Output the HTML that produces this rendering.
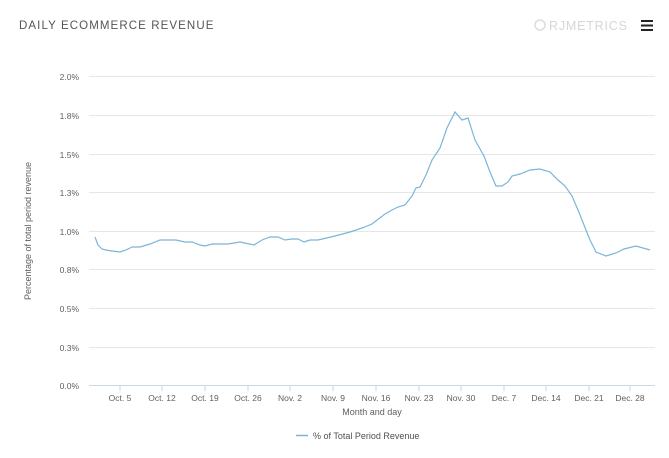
<!DOCTYPE html>
<html><head><meta charset="utf-8"><style>
body{margin:0;background:#fff;width:669px;height:453px;overflow:hidden;font-family:"Liberation Sans",sans-serif}
</style></head><body>
<svg width="669" height="453" xmlns="http://www.w3.org/2000/svg" font-family="Liberation Sans, sans-serif">
<text x="19" y="29" font-size="11.5" fill="#555" letter-spacing="1.1">DAILY ECOMMERCE REVENUE</text>
<circle cx="540" cy="25" r="5" fill="none" stroke="#ddd" stroke-width="1.5"/>
<text x="549" y="30" font-size="12.5" fill="#d6d6d6" letter-spacing="0.8">RJMETRICS</text>
<g fill="#222"><rect x="641" y="20" width="12" height="2"/><rect x="641" y="24.5" width="12" height="2"/><rect x="641" y="29" width="12" height="2"/></g>
<g stroke="#e6e6e6" stroke-width="1">
<line x1="89" x2="655" y1="76.5" y2="76.5"/><line x1="89" x2="655" y1="115.5" y2="115.5"/><line x1="89" x2="655" y1="154.5" y2="154.5"/><line x1="89" x2="655" y1="192.5" y2="192.5"/><line x1="89" x2="655" y1="231.5" y2="231.5"/><line x1="89" x2="655" y1="269.5" y2="269.5"/><line x1="89" x2="655" y1="308.5" y2="308.5"/><line x1="89" x2="655" y1="347.5" y2="347.5"/>
</g>
<line x1="89" x2="655" y1="385.5" y2="385.5" stroke="#c8d7e1"/>
<g stroke="#c8d7e1"><line x1="120" x2="120" y1="385" y2="391"/><line x1="162" x2="162" y1="385" y2="391"/><line x1="205" x2="205" y1="385" y2="391"/><line x1="248" x2="248" y1="385" y2="391"/><line x1="290" x2="290" y1="385" y2="391"/><line x1="333" x2="333" y1="385" y2="391"/><line x1="376" x2="376" y1="385" y2="391"/><line x1="419" x2="419" y1="385" y2="391"/><line x1="461" x2="461" y1="385" y2="391"/><line x1="504" x2="504" y1="385" y2="391"/><line x1="546" x2="546" y1="385" y2="391"/><line x1="589" x2="589" y1="385" y2="391"/><line x1="630" x2="630" y1="385" y2="391"/></g>
<g font-size="8.5" fill="#606060" text-anchor="end">
<text x="79" y="80">2.0%</text><text x="79" y="119">1.8%</text><text x="79" y="158">1.5%</text><text x="79" y="196">1.3%</text><text x="79" y="235">1.0%</text><text x="79" y="273">0.8%</text><text x="79" y="312">0.5%</text><text x="79" y="351">0.3%</text><text x="79" y="389">0.0%</text>
</g>
<g font-size="8.5" fill="#606060" text-anchor="middle">
<text x="120" y="401">Oct. 5</text><text x="162" y="401">Oct. 12</text><text x="205" y="401">Oct. 19</text><text x="248" y="401">Oct. 26</text><text x="290" y="401">Nov. 2</text><text x="333" y="401">Nov. 9</text><text x="376" y="401">Nov. 16</text><text x="419" y="401">Nov. 23</text><text x="461" y="401">Nov. 30</text><text x="504" y="401">Dec. 7</text><text x="546" y="401">Dec. 14</text><text x="589" y="401">Dec. 21</text><text x="630" y="401">Dec. 28</text>
<text x="372" y="415" font-size="9">Month and day</text>
</g>
<text transform="translate(31,231) rotate(-90)" font-size="9" fill="#606060" text-anchor="middle">Percentage of total period revenue</text>
<polyline fill="none" stroke="#7cb5d8" stroke-width="1.2" points="95,237 98,245 102,249 106,250 112,251 120,252 126,250 132,247 140,247 150,244 160,240 176,240 185,242 192,242 200,245 205,246 212,244 228,244 240,242 254,245 262,240 270,237 278,237 285,240 292,239 298,239 304,242 310,240 318,240 335,236 350,232 362,228 372,224 385,214 392,210 398,207 405,205 412,196 416,188 420,187 426,175 432,160 440,148 447,128 455,112 462,120 468,118 475,140 484,156 490,172 496,186 502,186 508,182 512,176 520,174 530,170 540,169 550,172 558,180 565,186 572,196 578,210 584,225 590,240 596,252 606,256 616,253 624,249 636,246 650,250"/>
<line x1="296" x2="308" y1="435.5" y2="435.5" stroke="#7cb5d8" stroke-width="1.5"/>
<text x="313" y="439" font-size="9" fill="#505050">% of Total Period Revenue</text>
</svg>
</body></html>
